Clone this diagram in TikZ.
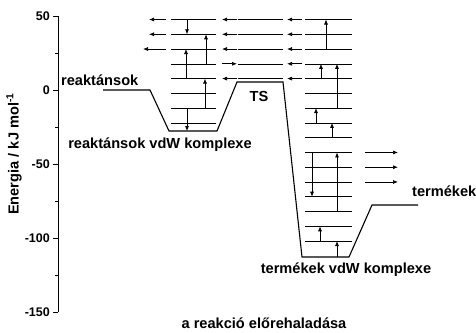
\documentclass[tikz,border=0pt]{standalone}
\usepackage{fontspec}
\setmainfont{Liberation Sans}
\usetikzlibrary{arrows.meta}
\begin{document}
\begin{tikzpicture}[x=1pt,y=-1pt,
  lev/.style={line width=0.6pt},
  prof/.style={line width=1.1pt},
  arr/.style={line width=0.7pt,-{Latex[length=5pt,width=4pt]}},
  lbl/.style={font=\fontsize{14.6}{16}\selectfont\bfseries, inner sep=0pt},
  tl/.style={font=\fontsize{12.5}{14}\selectfont\bfseries, anchor=east, inner sep=0pt}]
\useasboundingbox (0,0) rectangle (476,332);
% axis
\draw[line width=1pt] (58,16) -- (58,312);
\foreach \v/\y [count=\i] in {50/16,0/90,-50/164,-100/238,-150/312}{
  \draw[line width=0.9pt] (53,\y) -- (58,\y);
  \node[tl] (tick\i) at (50,\y) {\v};}
\foreach \y in {53,127,201,275}{\draw[line width=0.8pt] (55,\y) -- (58,\y);}
\node[lbl, rotate=90] (ylab) at (14,154) {Energia / kJ mol\textsuperscript{-1}};
% levels
\foreach \k in {0,...,7}{\draw[lev] (171,{19.5+14.77*\k}) -- (216,{19.5+14.77*\k});}
\foreach \k in {0,...,4}{\draw[lev] (238,{19.5+14.77*\k}) -- (283,{19.5+14.77*\k});}
\foreach \k in {0,...,15}{\draw[lev] (305,{19.5+14.77*\k}) -- (352,{19.5+14.77*\k});}
% horizontal arrows
\foreach \k/\xa in {0/149,1/149,2/143}{\draw[arr] (166,{19.5+14.77*\k}) -- (\xa,{19.5+14.77*\k});}
\foreach \k in {0,1,2,4}{\draw[arr] (237,{19.5+14.77*\k}) -- (222,{19.5+14.77*\k});}
\draw[arr] (222,{19.5+14.77*3}) -- (237,{19.5+14.77*3});
\foreach \k in {0,...,4}{\draw[arr] (302,{19.5+14.77*\k}) -- (287,{19.5+14.77*\k});}
\foreach \k in {9,10,11}{\draw[arr] (365,{19.5+14.77*\k}) -- (398,{19.5+14.77*\k});}
% vertical arrows, reactant complex
\foreach \x/\a/\b in {187/0/1,206/3/1,186/4/2,205/6/4}{
  \draw[arr] (\x,{19.5+14.77*\a}) -- (\x,{19.5+14.77*\b});}
\draw[arr] (187,{19.5+14.77*6}) -- (187,131);
% vertical arrows, product complex
\foreach \x/\a/\b in {326/2/0,321/4/3,337/6/3,316/7/6,332/8/7,337/13/9,312/9/12,320/15/14}{
  \draw[arr] (\x,{19.5+14.77*\a}) -- (\x,{19.5+14.77*\b});}
\draw[arr] (337,257) -- (337,{19.5+14.77*15});
% energy profile
\draw[prof] (103,90) -- (150,90) -- (169,131) -- (217,131) -- (237,82) -- (283,82)
  -- (302,257) -- (349,257) -- (372,205) -- (418,205);
% labels
\node[lbl, anchor=west] (reak) at (61,80) {reaktánsok};
\node[lbl] (reakc) at (160,145) {reaktánsok vdW komplexe};
\node[lbl] (ts) at (259,96) {TS};
\node[lbl, anchor=west] (term) at (412,191) {termékek};
\node[lbl] (termc) at (346,270) {termékek vdW komplexe};
\node[lbl] (xlab) at (264,323) {a reakció előrehaladása};
\end{tikzpicture}
\end{document}
